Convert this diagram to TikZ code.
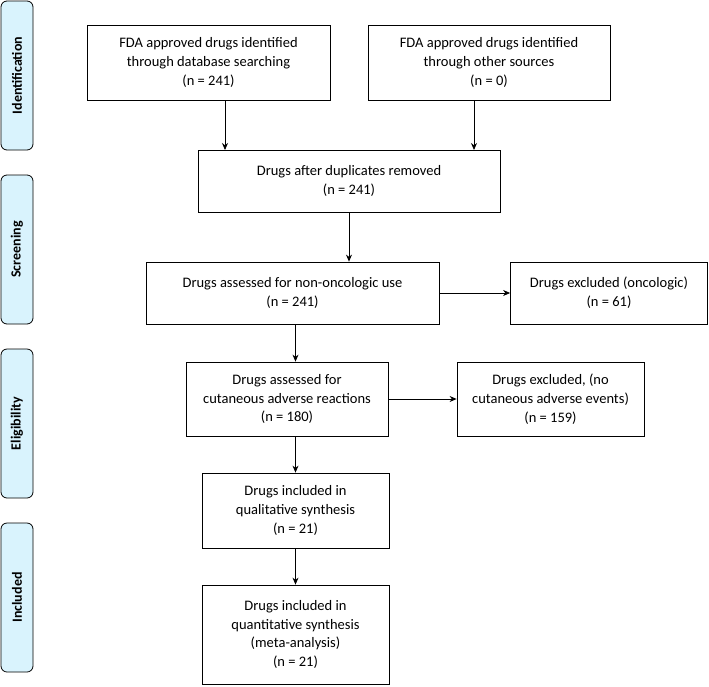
\documentclass[tikz,border=0pt]{standalone}
\usepackage{fontspec}
\setmainfont{Carlito}
\usetikzlibrary{arrows.meta}
\begin{document}
\begin{tikzpicture}[x=1pt,y=-1pt]
        \useasboundingbox (0,0) rectangle (709,686);
        \tikzset{
            box/.style={draw,line width=0.8pt,align=center,font=\fontsize{14.5}{18.7}\selectfont,inner sep=0pt},
            band/.style={draw,line width=0.8pt,fill=cyan!15,rounded corners=6pt,inner sep=0pt},
            bandtext/.style={rotate=90,font=\bfseries\fontsize{14}{16}\selectfont}
        }
        % side bands
        \begin{scope}
            \foreach \name/\top/\bot in {Identification/1/150,Screening/175/324,Eligibility/349/498,Included/523/672} {
                \node[band,minimum width=32pt,minimum height={\bot-\top}] (b\name) at (17,{(\top+\bot)/2}) {};
                \node[bandtext] at (b\name) {\name};
            }
        \end{scope}
        % boxes
        \node[box,minimum width=243pt,minimum height=75pt] (db) at (208.5,62.5) {FDA approved drugs identified\\through database searching\\(n = 241)};
        \node[box,minimum width=242pt,minimum height=75pt] (other) at (489,62.5) {FDA approved drugs identified\\through other sources\\(n = 0)};
        \node[box,minimum width=302pt,minimum height=62pt] (dup) at (349,181) {Drugs after duplicates removed\\(n = 241)};
        \node[box,minimum width=293pt,minimum height=62pt] (nonon) at (292.5,293) {Drugs assessed for non-oncologic use\\(n = 241)};
        \node[box,minimum width=197pt,minimum height=62pt] (onco) at (609,293) {Drugs excluded (oncologic)\\(n = 61)};
        \node[box,minimum width=202pt,minimum height=74pt] (cut) at (287,399) {Drugs assessed for\\cutaneous adverse reactions\\(n =  180)};
        \node[box,minimum width=187pt,minimum height=74pt] (nocut) at (550.5,399) {Drugs excluded, (no\\cutaneous adverse events)\\(n = 159)};
        \node[box,minimum width=187pt,minimum height=75pt] (qual) at (295.5,510.5) {Drugs included in\\qualitative synthesis\\(n = 21)};
        \node[box,minimum width=187pt,minimum height=99pt] (quant) at (295.5,634.5) {Drugs included in\\quantitative synthesis\\(meta-analysis)\\(n = 21)};
        \begin{scope}[line width=0.8pt,-{Stealth[length=7pt,width=6pt]}]
            \draw (225,100) -- (225,150);
            \draw (474,100) -- (474,150);
            \draw (dup.south) -- (dup.south |- nonon.north);
            \draw (nonon.east) -- (onco.west);
            \draw (qual.north |- nonon.south) -- (qual.north |- cut.north);
            \draw (cut.east) -- (nocut.west);
            \draw (qual.north |- cut.south) -- (qual.north);
            \draw (qual.south) -- (quant.north);
        \end{scope}
    \end{tikzpicture}
\end{document}
